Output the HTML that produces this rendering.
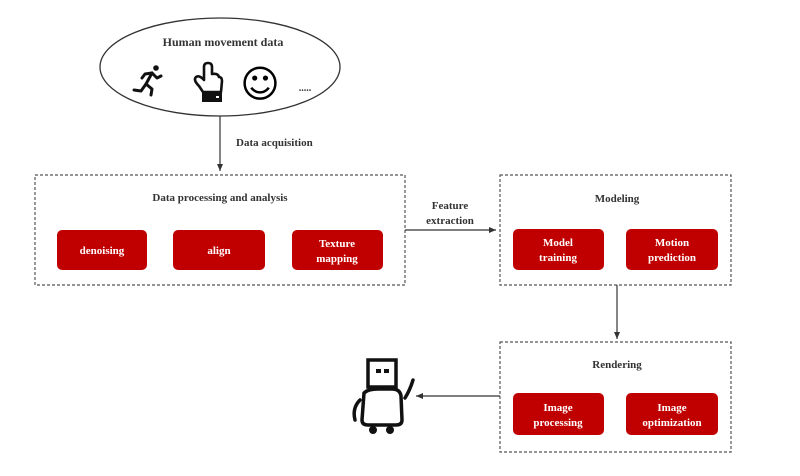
<!DOCTYPE html>
<html><head><meta charset="utf-8"><style>
html,body{margin:0;padding:0;background:#fff;}
svg{display:block;font-family:"Liberation Serif",serif;font-weight:bold;}
</style></head><body>
<svg width="800" height="476" viewBox="0 0 800 476" xmlns="http://www.w3.org/2000/svg">
<defs><marker id="a" markerWidth="8" markerHeight="8" refX="7" refY="4" orient="auto" markerUnits="userSpaceOnUse"><path d="M0,1 L7,4 L0,7 Z" fill="#333"/></marker></defs>
<rect width="800" height="476" fill="#fff"/>
<ellipse cx="220" cy="67" rx="120" ry="49" fill="#fff" stroke="#333" stroke-width="1.3"/>
<text x="223" y="46" font-size="12" text-anchor="middle" fill="#333">Human movement data</text>
<!-- runner -->
<g stroke="#111" stroke-width="3" fill="none" stroke-linecap="round" stroke-linejoin="round">
<circle cx="156" cy="68" r="2.8" fill="#111" stroke="none"/>
<path d="M152,73 L146,84"/>
<path d="M152,73 L157,78 L161,76"/>
<path d="M152,73 L145,74 L142,78"/>
<path d="M146,84 L152,89 L151,95"/>
<path d="M146,84 L141,91 L134,90"/>
</g>
<!-- hand -->
<g stroke="#111" stroke-width="2.6" fill="#fff" stroke-linejoin="round">
<path d="M203,92 L199,86 Q193,80 196,77 Q199,75 203,79 L204,80 L204,67 Q204,63 208,63 Q212,63 212,67 L212,74 Q218,73 219,77 Q222,77 222,81 L221,92 Z"/>
</g>
<rect x="202" y="93" width="20" height="9" fill="#111"/>
<rect x="216" y="96" width="3" height="2" fill="#fff"/>
<text x="260" y="97" font-size="38" text-anchor="middle" font-family="DejaVu Sans" font-weight="normal">☺</text>
<text x="305" y="91" font-size="10" text-anchor="middle" fill="#333">.....</text>
<line x1="220" y1="116" x2="220" y2="171" stroke="#333" stroke-width="1.2" marker-end="url(#a)"/>
<text x="236" y="146" font-size="11" fill="#333">Data acquisition</text>
<g fill="none" stroke="#555" stroke-width="1.2" stroke-dasharray="3,2">
<rect x="35" y="175" width="370" height="110"/>
<rect x="500" y="175" width="231" height="110"/>
<rect x="500" y="342" width="231" height="110"/>
</g>
<g font-size="11" fill="#333" text-anchor="middle">
<text x="220" y="201">Data processing and analysis</text>
<text x="617" y="202">Modeling</text>
<text x="617" y="368">Rendering</text>
<text x="450" y="209">Feature</text>
<text x="450" y="224">extraction</text>
</g>
<g fill="#c00000">
<rect x="57" y="230" width="90" height="40" rx="5"/>
<rect x="173" y="230" width="92" height="40" rx="5"/>
<rect x="292" y="230" width="91" height="40" rx="5"/>
<rect x="513" y="229" width="91" height="41" rx="5"/>
<rect x="626" y="229" width="92" height="41" rx="5"/>
<rect x="513" y="393" width="91" height="42" rx="5"/>
<rect x="626" y="393" width="92" height="42" rx="5"/>
</g>
<g font-size="11" fill="#fff" text-anchor="middle">
<text x="102" y="254">denoising</text>
<text x="219" y="254">align</text>
<text x="337" y="247">Texture</text><text x="337" y="262">mapping</text>
<text x="558" y="246">Model</text><text x="558" y="261">training</text>
<text x="672" y="246">Motion</text><text x="672" y="261">prediction</text>
<text x="558" y="411">Image</text><text x="558" y="426">processing</text>
<text x="672" y="411">Image</text><text x="672" y="426">optimization</text>
</g>
<line x1="405" y1="230" x2="496" y2="230" stroke="#333" stroke-width="1.2" marker-end="url(#a)"/>
<line x1="617" y1="285" x2="617" y2="339" stroke="#333" stroke-width="1.2" marker-end="url(#a)"/>
<line x1="500" y1="396" x2="416" y2="396" stroke="#333" stroke-width="1.2" marker-end="url(#a)"/>
<g stroke="#111" stroke-width="3.5" fill="none" stroke-linecap="round">
<rect x="368" y="360" width="28" height="27"/>
<path d="M364,393 Q368,389 378,389 L392,389 Q400,389 401,396 L402,420 Q402,425 396,425 L368,425 Q362,425 362,420 Z"/>
<path d="M355,420 Q352,408 360,400"/>
<path d="M405,398 Q410,390 413,380"/>
</g>
<rect x="376" y="369" width="5" height="4" fill="#111"/><rect x="384" y="369" width="5" height="4" fill="#111"/>
<circle cx="373" cy="430" r="4" fill="#111"/><circle cx="390" cy="430" r="4" fill="#111"/>
</svg>
</body></html>
